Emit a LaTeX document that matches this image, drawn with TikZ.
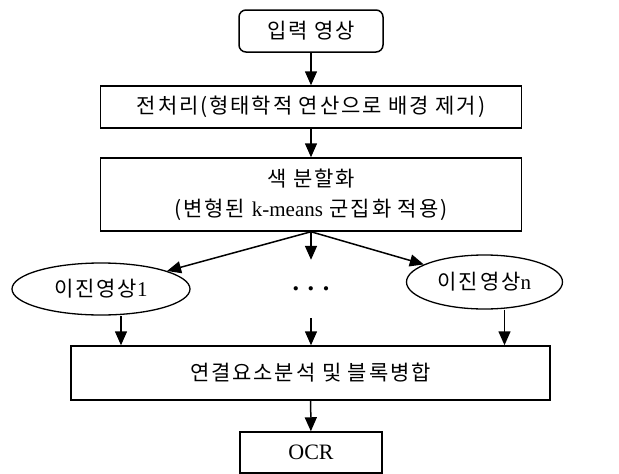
\documentclass[tikz,border=0pt]{standalone}
\usepackage{fontspec}
\setmainfont{Liberation Serif}
\newfontfamily\kr[LetterSpace=9]{Noto Sans CJK KR}
\usetikzlibrary{arrows.meta,shapes.geometric}

\begin{document}
\begin{tikzpicture}[
  x=1pt, y=-1pt,
  font=\kr\fontsize{21}{30}\selectfont,
  box/.style={draw, line width=1.5pt, minimum height=42pt, inner sep=0pt},
  rbox/.style={box, rounded corners=7pt},
  oval/.style={ellipse, draw, line width=1.3pt, inner sep=0pt},
  arr/.style={-{Triangle[length=14pt,width=12pt]}, line width=1.5pt},
  lat/.style={font=\rmfamily\fontsize{22}{26}\selectfont},
]
\useasboundingbox (0,0) rectangle (619,474);
\node[rbox, minimum width=144pt] (in) at (311,31) {입력 영상};
\node[box, minimum width=421pt] (pre) at (311,107) {전처리(형태학적 연산으로 배경 제거)};
\node[box, minimum width=421pt, minimum height=73pt, align=center] (seg) at (311,194.5) {색 분할화\\(변형된 {\rmfamily k-means} 군집화 적용)};
\node[oval, minimum width=178pt, minimum height=52pt] (bin1) at (101,289) {이진영상{\rmfamily 1}};
\node[font=\rmfamily\bfseries\fontsize{26}{26}\selectfont, minimum height=58pt, inner sep=0pt] (dots) at (311,289) {. . .};
\node[oval, minimum width=156pt, minimum height=54pt] (binn) at (484.5,282) {이진영상{\rmfamily n}};
\node[box, minimum width=479pt, minimum height=54pt] (merge) at (310.5,373) {연결요소분석 및 블록병합};
\node[box, lat, minimum width=142pt, minimum height=41pt] (ocr) at (311,452.5) {OCR};
% flow
\draw[arr] (in) -- (pre);
\draw[arr] (pre) -- (seg);
\draw[arr] (seg.south) -- (bin1);
\draw[arr] (seg.south) -- (dots);
\draw[arr] (seg.south) -- (binn);
\draw[arr] ([xshift=20pt]bin1.south) -- ([xshift=20pt]bin1.south |- merge.north);
\draw[arr] (dots) -- (dots |- merge.north);
\draw[arr] ([xshift=20pt]binn.south) -- ([xshift=20pt]binn.south |- merge.north);
\draw[arr] (merge) -- (ocr);
\end{tikzpicture}
\end{document}
